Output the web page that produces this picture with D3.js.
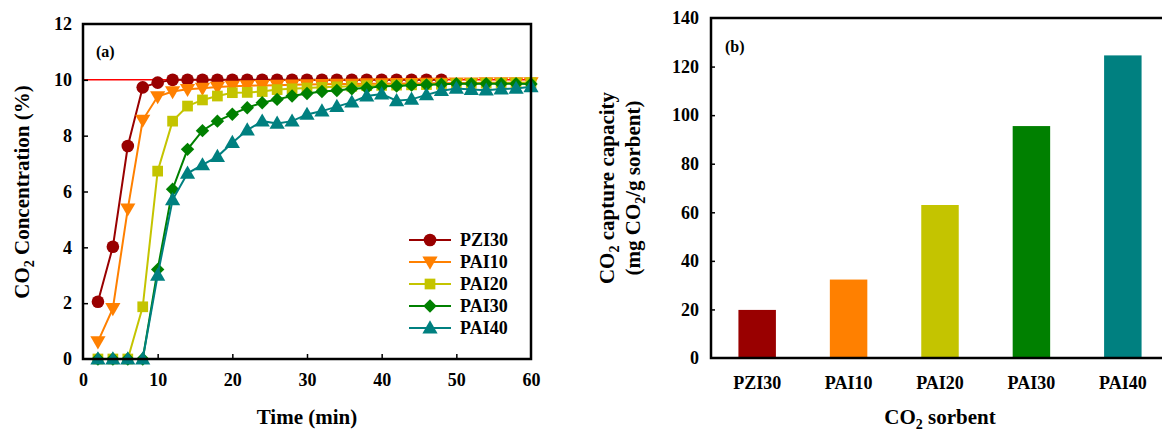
<!DOCTYPE html>
<html><head><meta charset="utf-8">
<script src="https://cdn.jsdelivr.net/npm/d3@7"></script>
<style>
body{margin:0;background:#fff;}
text{font-family:"Liberation Serif","Times New Roman",serif;font-weight:bold;fill:#000;}
</style></head>
<body><svg id="c" width="1162" height="437"></svg>
<script>
// ---------- data ----------
const times = [2,4,6,8,10,12,14,16,18,20,22,24,26,28,30,32,34,36,38,40,42,44,46,48,50,52,54,56,58,60];
const seriesNames = ["PZI30","PAI10","PAI20","PAI30","PAI40"];
const seriesColors = ["#990000","#FF8000","#C4C400","#008000","#008080"];
const seriesShapes = ["circle","triangleDown","square","diamond","triangle"];
const pzi30 = [2.05,4.02,7.63,9.73,9.9,10.0,10.0,10.0,10.0,10.0,10.0,10.0,10.0,10.0,10.0,10.0,10.0,10.0,10.0,10.0,10.0,10.0,10.0,10.0];
const pai10 = [0.62,1.81,5.38,8.56,9.4,9.58,9.66,9.7,9.74,9.77,9.79,9.8,9.81,9.82,9.83,9.84,9.85,9.85,9.86,9.86,9.87,9.87,9.88,9.88,9.89,9.89,9.9,9.9,9.9,9.9];
const pai20 = [0,0,0,1.87,6.73,8.52,9.06,9.28,9.42,9.54,9.55,9.58,9.65,9.68,9.71,9.73,9.75,9.77,9.79,9.8,9.81,9.82,9.83,9.84,9.86,9.87,9.88,9.88,9.89,9.9];
const pai30 = [0,0,0,0,3.21,6.08,7.51,8.18,8.52,8.77,9.0,9.18,9.3,9.42,9.51,9.58,9.62,9.68,9.71,9.77,9.78,9.81,9.82,9.84,9.86,9.86,9.86,9.86,9.86,9.85];
const pai40 = [0,0,0,0,3.0,5.7,6.65,6.95,7.25,7.75,8.2,8.52,8.44,8.52,8.76,8.88,9.04,9.2,9.42,9.49,9.25,9.3,9.46,9.61,9.69,9.65,9.63,9.67,9.69,9.75];
const seriesValues = [pzi30,pai10,pai20,pai30,pai40];
const refLevel = 10;
const xTicksA = [0,10,20,30,40,50,60];
const yTicksA = [0,2,4,6,8,10,12];

const sorbents = ["PZI30","PAI10","PAI20","PAI30","PAI40"];
const capacity = [19.8,32.3,63.0,95.5,124.6];
const yTicksB = [0,20,40,60,80,100,120,140];

const FONT = "Liberation Serif";
// ---------- chart (a) ----------
const svg = d3.select("#c");
const A = {l:83,r:531,t:24,b:359};
const xA = d3.scaleLinear().domain([0,60]).range([A.l,A.r]);
const yA = d3.scaleLinear().domain([0,12]).range([A.b,A.t]);

const gA = svg.append("g");
gA.append("line").attr("x1",xA(0)).attr("x2",xA(60)).attr("y1",yA(refLevel)).attr("y2",yA(refLevel))
  .attr("stroke","#FF0000").attr("stroke-width",1.5);

const symMap = {
  circle:{type:d3.symbolCircle,size:125,rot:0},
  triangleDown:{type:d3.symbolTriangle,size:100,rot:180},
  square:{type:d3.symbolSquare,size:115,rot:0},
  diamond:{type:d3.symbolSquare,size:90,rot:45},
  triangle:{type:d3.symbolTriangle,size:100,rot:0}
};
function drawSym(g, shape, x, y, color){
  const s = symMap[shape];
  let dy = 0;
  if(shape==="triangle") dy = 1;
  if(shape==="triangleDown") dy = -1;
  g.append("path").attr("d", d3.symbol().type(s.type).size(s.size)())
    .attr("transform",`translate(${x},${y+dy}) rotate(${s.rot})`)
    .attr("fill",color);
}

const line = d3.line().x(d=>xA(d[0])).y(d=>yA(d[1]));
seriesNames.forEach((name,i)=>{
  const vals = seriesValues[i];
  const pts = vals.map((v,j)=>[times[j],v]);
  const g = gA.append("g");
  g.append("path").attr("d",line(pts)).attr("fill","none").attr("stroke",seriesColors[i]).attr("stroke-width",2);
  pts.forEach(p=>drawSym(g, seriesShapes[i], xA(p[0]), yA(p[1]), seriesColors[i]));
});

gA.append("rect").attr("x",A.l).attr("y",A.t).attr("width",A.r-A.l).attr("height",A.b-A.t)
  .attr("fill","none").attr("stroke","#000").attr("stroke-width",2.5);
const axXA = gA.append("g").attr("transform",`translate(0,${A.b})`)
  .call(d3.axisBottom(xA).tickValues(xTicksA).tickSize(-5).tickPadding(14));
const axYA = gA.append("g").attr("transform",`translate(${A.l},0)`)
  .call(d3.axisLeft(yA).tickValues(yTicksA).tickSize(-5).tickPadding(11));
function styleAxis(a){
  a.attr("font-family",FONT).attr("font-size",18);
  a.select(".domain").remove();
  a.selectAll(".tick line").attr("stroke","#000").attr("stroke-width",1.5);
  a.selectAll(".tick text").attr("font-family",FONT).attr("font-weight","bold")
    .style("font-size","18px").style("font-family",FONT).style("font-weight","bold");
}
[axXA,axYA].forEach(styleAxis);
axXA.selectAll(".tick").filter(d=>d===0||d===60).select("line").remove();
axYA.selectAll(".tick").filter(d=>d===0||d===12).select("line").remove();

gA.append("text").attr("x",96).attr("y",57).style("font-size","16px").text("(a)");
gA.append("text").attr("x",(A.l+A.r)/2).attr("y",424).attr("text-anchor","middle").style("font-size","21px").text("Time (min)");
const ytA = gA.append("text").attr("transform","translate(29,192) rotate(-90)").attr("text-anchor","middle").style("font-size","21px");
ytA.append("tspan").text("CO");
ytA.append("tspan").attr("dy",5).style("font-size","14px").text("2");
ytA.append("tspan").attr("dy",-5).text(" Concentration (%)");

const legY = [240,262,284,306,328];
seriesNames.forEach((name,i)=>{
  const g = gA.append("g");
  g.append("line").attr("x1",409).attr("x2",451).attr("y1",legY[i]).attr("y2",legY[i]).attr("stroke",seriesColors[i]).attr("stroke-width",2);
  drawSym(g, seriesShapes[i], 430, legY[i], seriesColors[i]);
  g.append("text").attr("x",460).attr("y",legY[i]+6).style("font-size","18px").text(name);
});

// ---------- chart (b) ----------
const B = {l:711,r:1169,t:18,b:358};
const xB = d3.scaleBand().domain(sorbents).range([B.l,B.r]).paddingInner(0.59).paddingOuter(0.3);
const yB = d3.scaleLinear().domain([0,140]).range([B.b,B.t]);
const gB = svg.append("g");
gB.selectAll("rect.bar").data(sorbents).enter().append("rect").attr("class","bar")
  .attr("x",d=>xB(d)).attr("width",xB.bandwidth())
  .attr("y",(d,i)=>yB(capacity[i])).attr("height",(d,i)=>yB(0)-yB(capacity[i]))
  .attr("fill",(d,i)=>seriesColors[i]);
gB.append("path").attr("d",`M${B.r+10},${B.t}H${B.l}V${B.b}H${B.r+10}`).attr("fill","none").attr("stroke","#000").attr("stroke-width",2.5);
const axYB = gB.append("g").attr("transform",`translate(${B.l},0)`)
  .call(d3.axisLeft(yB).tickValues(yTicksB).tickSize(-4).tickPadding(12));
const axXB = gB.append("g").attr("transform",`translate(0,${B.b})`)
  .call(d3.axisBottom(xB).tickSize(0).tickPadding(18));
[axXB,axYB].forEach(styleAxis);
axYB.selectAll(".tick").filter(d=>d===0||d===140).select("line").remove();

gB.append("text").attr("x",725).attr("y",52).style("font-size","16px").text("(b)");
const xtB = gB.append("text").attr("x",940).attr("y",424).attr("text-anchor","middle").style("font-size","21px");
xtB.append("tspan").text("CO");
xtB.append("tspan").attr("dy",5).style("font-size","14px").text("2");
xtB.append("tspan").attr("dy",-5).text(" sorbent");
const yt1 = gB.append("text").attr("transform","translate(614,188) rotate(-90)").attr("text-anchor","middle").style("font-size","21px");
yt1.append("tspan").text("CO");
yt1.append("tspan").attr("dy",5).style("font-size","14px").text("2");
yt1.append("tspan").attr("dy",-5).text(" capture capacity");
const yt2 = gB.append("text").attr("transform","translate(640,188) rotate(-90)").attr("text-anchor","middle").style("font-size","21px");
yt2.append("tspan").text("(mg CO");
yt2.append("tspan").attr("dy",5).style("font-size","14px").text("2");
yt2.append("tspan").attr("dy",-5).text("/g sorbent)");
</script></body></html>
